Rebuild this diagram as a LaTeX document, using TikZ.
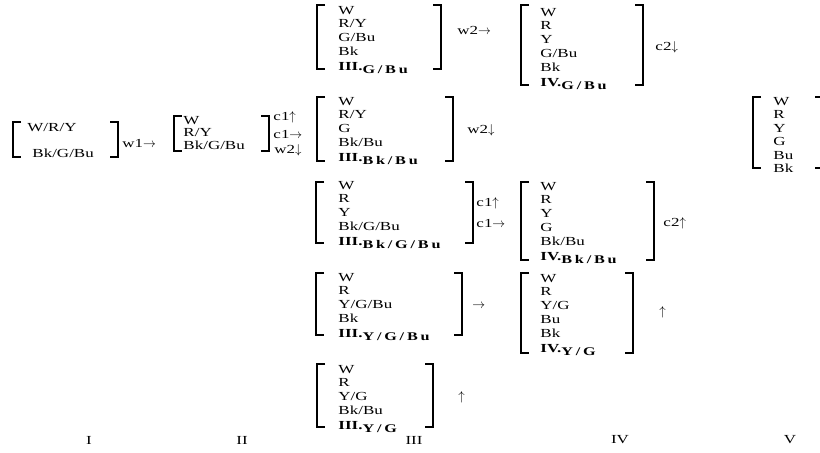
\documentclass[tikz,border=0pt]{standalone}
\usepackage{fontspec}
\setmainfont[FakeStretch=1.38]{Liberation Serif}
\newcommand{\fin}[2]{\textbf{#1}\raisebox{-0.5ex}{\fontsize{10}{10}\selectfont\bfseries #2}}
\newcommand{\gap}{\kern2.4pt}

\begin{document}
\begin{tikzpicture}[>=latex, thick, font={\fontsize{10.5}{11.9}\selectfont}, x=0.03cm, y=-0.03cm]
        \tikzset{col/.style={align=left, inner sep=0pt, anchor=north west},
                 brk/.style={line width=1.2pt},
                 tag/.style={anchor=west, inner sep=0pt},
                 stage/.style={inner sep=0pt}}
        \useasboundingbox (0,0) rectangle (820,452);
        %% Brackets (left x / right x / top / bottom)
        \foreach \xa/\xb/\ya/\yb in {13/118/122/157, 174/269/116/151,
                 317/441/5/69, 521/643/5/85, 317/453/97/161, 316/473/182/243,
                 521/654/182/260, 316/462/273/335, 521/633/273/353,
                 317/433/364/427, 753/823/97/168}{
          \draw[brk] (\xa+8,\ya) -| (\xa,\yb) -- (\xa+8,\yb);
          \draw[brk] (\xb-8,\ya) -| (\xb,\yb) -- (\xb-8,\yb);
        }
        %% Stage I and II
        \node[tag] (aI)  at (27,128) {W/R/Y};
        \node[tag] (bI)  at (32,153) {Bk/G/Bu};
        \node[col, font={\fontsize{10.5}{11}\selectfont}] (nII) at (183,115.5) {W\\R/Y\\Bk/G/Bu};
        %% Stage III
        \node[col] (nIIIa) at (338,5.5)   {W\\R/Y\\G/Bu\\Bk\\[1pt]\fin{III.}{G\gap/\gap B\gap u}};
        \node[col] (nIIIb) at (338,96.5)  {W\\R/Y\\G\\Bk/Bu\\[1pt]\fin{III.}{B\gap k\gap/\gap B\gap u}};
        \node[col] (nIIIc) at (338,180.5) {W\\R\\Y\\Bk/G/Bu\\[1pt]\fin{III.}{B\gap k\gap/\gap G\gap/\gap B\gap u}};
        \node[col] (nIIId) at (338,272.5) {W\\R\\Y/G/Bu\\Bk\\[1pt]\fin{III.}{Y\gap/\gap G\gap/\gap B\gap u}};
        \node[col] (nIIIe) at (338,364.5) {W\\R\\Y/G\\Bk/Bu\\[1pt]\fin{III.}{Y\gap/\gap G}};
        %% Stage IV
        \node[col] (nIVa) at (540,7.5)   {W\\R\\Y\\G/Bu\\Bk\\[1pt]\fin{IV.}{G\gap/\gap B\gap u}};
        \node[col] (nIVb) at (540,181.5) {W\\R\\Y\\G\\Bk/Bu\\[1pt]\fin{IV.}{B\gap k\gap/\gap B\gap u}};
        \node[col] (nIVc) at (540,273.5) {W\\R\\Y/G\\Bu\\Bk\\[1pt]\fin{IV.}{Y\gap/\gap G}};
        %% Stage V
        \node[col, font={\fontsize{10.5}{11.6}\selectfont}] (nV) at (773,96.5) {W\\R\\Y\\G\\Bu\\Bk};
        %% Moves
        \node[tag] (m1)  at (122,143) {w1$\rightarrow$};
        \node[tag] (m2)  at (273,117) {c1$\uparrow$};
        \node[tag] (m3)  at (273,134) {c1$\rightarrow$};
        \node[tag] (m4)  at (274,150) {w2$\downarrow$};
        \node[tag] (m5)  at (457,30)  {w2$\rightarrow$};
        \node[tag] (m6)  at (655,47)  {c2$\downarrow$};
        \node[tag] (m7)  at (467,130) {w2$\downarrow$};
        \node[tag] (m8)  at (476,203) {c1$\uparrow$};
        \node[tag] (m9)  at (476,223) {c1$\rightarrow$};
        \node[tag] (m10) at (663,223) {c2$\uparrow$};
        \node[tag] (m11) at (472,306) {$\rightarrow$};
        \node[tag] (m12) at (659,312) {$\uparrow$};
        \node[tag] (m13) at (458,397) {$\uparrow$};
        %% Stage labels
        \node[stage] (sI)   at (89,440)  {I};
        \node[stage] (sII)  at (242,440) {II};
        \node[stage] (sIII) at (414,440) {III};
        \node[stage] (sIV)  at (620,440) {IV};
        \node[stage] (sV)   at (790,440) {V};
    \end{tikzpicture}
\end{document}
